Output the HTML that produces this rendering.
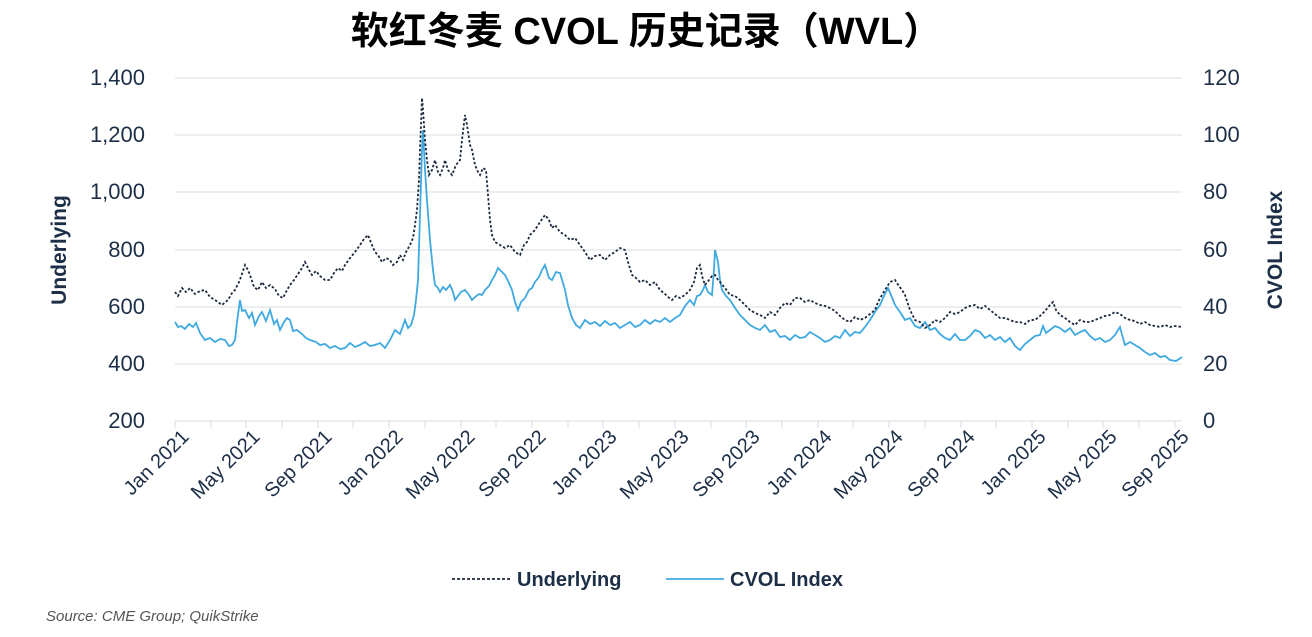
<!DOCTYPE html>
<html><head><meta charset="utf-8"><style>
body{margin:0;background:#fff;width:1312px;height:632px;overflow:hidden}
</style></head><body>
<svg width="1312" height="632" xmlns="http://www.w3.org/2000/svg" font-family="Liberation Sans, DejaVu Sans, sans-serif">
<text x="646" y="44" text-anchor="middle" font-size="38" font-weight="bold" fill="#000" font-family="Liberation Sans, Noto Sans CJK SC, sans-serif">软红冬麦 CVOL 历史记录（WVL）</text>
<g stroke="#e6e8ec" stroke-width="1.5">
<line x1="175" y1="78" x2="1182" y2="78"/><line x1="175" y1="135" x2="1182" y2="135"/><line x1="175" y1="192" x2="1182" y2="192"/><line x1="175" y1="250" x2="1182" y2="250"/><line x1="175" y1="307" x2="1182" y2="307"/><line x1="175" y1="364" x2="1182" y2="364"/><line x1="175" y1="421" x2="1182" y2="421"/>
</g>
<g stroke="#d8dbe0" stroke-width="1">
<line x1="175" y1="421" x2="175" y2="428"/><line x1="211" y1="421" x2="211" y2="428"/><line x1="246" y1="421" x2="246" y2="428"/><line x1="282" y1="421" x2="282" y2="428"/><line x1="318" y1="421" x2="318" y2="428"/><line x1="353" y1="421" x2="353" y2="428"/><line x1="389" y1="421" x2="389" y2="428"/><line x1="425" y1="421" x2="425" y2="428"/><line x1="461" y1="421" x2="461" y2="428"/><line x1="496" y1="421" x2="496" y2="428"/><line x1="532" y1="421" x2="532" y2="428"/><line x1="568" y1="421" x2="568" y2="428"/><line x1="603" y1="421" x2="603" y2="428"/><line x1="639" y1="421" x2="639" y2="428"/><line x1="675" y1="421" x2="675" y2="428"/><line x1="711" y1="421" x2="711" y2="428"/><line x1="746" y1="421" x2="746" y2="428"/><line x1="782" y1="421" x2="782" y2="428"/><line x1="818" y1="421" x2="818" y2="428"/><line x1="853" y1="421" x2="853" y2="428"/><line x1="889" y1="421" x2="889" y2="428"/><line x1="925" y1="421" x2="925" y2="428"/><line x1="961" y1="421" x2="961" y2="428"/><line x1="996" y1="421" x2="996" y2="428"/><line x1="1032" y1="421" x2="1032" y2="428"/><line x1="1068" y1="421" x2="1068" y2="428"/><line x1="1103" y1="421" x2="1103" y2="428"/><line x1="1139" y1="421" x2="1139" y2="428"/><line x1="1175" y1="421" x2="1175" y2="428"/>
</g>
<g font-size="22" fill="#1d2f47" text-anchor="end">
<text x="145" y="85">1,400</text><text x="145" y="142">1,200</text><text x="145" y="199">1,000</text><text x="145" y="257">800</text><text x="145" y="314">600</text><text x="145" y="371">400</text><text x="145" y="428">200</text>
</g>
<g font-size="22" fill="#1d2f47">
<text x="1203" y="85">120</text><text x="1203" y="142">100</text><text x="1203" y="199">80</text><text x="1203" y="257">60</text><text x="1203" y="314">40</text><text x="1203" y="371">20</text><text x="1203" y="428">0</text>
</g>
<text transform="translate(66,250) rotate(-90)" text-anchor="middle" font-size="21" font-weight="bold" fill="#1d2f47">Underlying</text>
<text transform="translate(1282,250) rotate(-90)" text-anchor="middle" font-size="21" font-weight="bold" fill="#1d2f47">CVOL Index</text>
<g font-size="20" fill="#1d2f47" text-anchor="end">
<text transform="translate(190,438) rotate(-45)">Jan 2021</text>
<text transform="translate(261,438) rotate(-45)">May 2021</text>
<text transform="translate(333,438) rotate(-45)">Sep 2021</text>
<text transform="translate(404,438) rotate(-45)">Jan 2022</text>
<text transform="translate(476,438) rotate(-45)">May 2022</text>
<text transform="translate(547,438) rotate(-45)">Sep 2022</text>
<text transform="translate(618,438) rotate(-45)">Jan 2023</text>
<text transform="translate(690,438) rotate(-45)">May 2023</text>
<text transform="translate(761,438) rotate(-45)">Sep 2023</text>
<text transform="translate(833,438) rotate(-45)">Jan 2024</text>
<text transform="translate(904,438) rotate(-45)">May 2024</text>
<text transform="translate(976,438) rotate(-45)">Sep 2024</text>
<text transform="translate(1047,438) rotate(-45)">Jan 2025</text>
<text transform="translate(1118,438) rotate(-45)">May 2025</text>
<text transform="translate(1190,438) rotate(-45)">Sep 2025</text>
</g>
<polyline fill="none" stroke="#3fa9e0" stroke-width="1.8" points="175,322 178,327 181,326 185,329 189,324 193,327 196,323 200,333 205,340 210,338 215,342 220,339 225,340 229,346 232,345 235,340 237,322 240,300 242,311 245,310 249,318 252,313 255,325 259,316 262,312 266,321 270,310 274,324 277,320 280,330 284,322 287,318 290,320 293,331 297,330 302,334 306,338 310,340 316,342 320,345 325,344 330,348 335,346 340,349 345,348 350,343 355,347 360,345 365,342 370,346 375,345 380,343 385,348 390,340 395,330 400,334 405,320 408,328 411,325 414,315 416,300 418,280 420,215 422,150 423,130 425,170 427,200 430,240 433,270 435,285 438,288 440,292 443,287 446,290 450,285 453,292 455,300 458,296 461,292 465,290 469,295 472,300 475,297 479,294 482,295 485,290 489,286 492,280 495,275 498,268 502,272 505,275 509,283 512,290 515,302 518,310 521,302 525,298 529,290 532,288 535,282 539,277 542,270 545,265 549,278 552,280 556,272 560,273 563,283 565,290 568,305 572,318 576,325 580,328 585,320 590,324 595,322 600,326 605,321 610,325 615,323 620,328 625,325 630,322 635,327 640,325 645,320 650,324 655,320 660,322 665,318 670,322 675,318 680,315 685,306 690,300 694,305 697,296 700,295 703,290 705,285 708,292 712,295 714,270 715,250 717,258 718,262 720,280 722,290 726,296 730,300 735,308 740,315 745,320 750,325 755,328 760,330 765,325 770,332 775,330 780,337 785,336 790,340 795,335 800,338 805,337 810,332 815,335 820,338 825,342 830,340 835,336 840,338 845,330 850,336 855,332 860,333 865,327 870,320 875,312 880,305 884,296 888,288 891,295 895,305 900,312 905,320 910,318 915,326 920,328 925,322 930,330 935,328 940,334 945,338 950,340 955,334 960,340 965,340 970,336 975,330 980,332 985,338 990,335 995,340 1000,337 1005,342 1010,338 1015,346 1020,350 1025,344 1030,340 1035,336 1040,335 1043,326 1046,333 1050,330 1055,326 1060,328 1065,332 1070,328 1075,335 1080,332 1085,330 1090,336 1095,340 1100,338 1105,342 1110,340 1115,335 1118,330 1120,327 1123,338 1125,345 1130,342 1135,345 1140,348 1145,352 1150,355 1155,353 1160,357 1165,356 1170,360 1176,361 1182,357"/>
<polyline fill="none" stroke="#1d2a3e" stroke-width="1.8" stroke-dasharray="2.5,2" points="175,292 178,296 182,288 186,292 190,288 195,294 200,291 205,290 210,297 215,300 222,305 228,300 232,293 235,290 239,282 242,274 245,265 248,270 250,275 254,287 258,290 262,282 266,288 270,285 275,289 279,296 283,298 287,290 290,285 294,280 298,274 302,268 305,262 309,270 312,275 316,271 320,276 325,280 330,280 334,273 338,268 342,271 345,265 350,258 355,252 360,245 364,239 368,235 372,245 375,252 378,255 382,262 386,258 390,260 393,265 397,262 400,255 403,260 406,252 410,245 413,238 415,225 417,210 419,180 420,150 422,98 423,110 425,140 427,160 429,175 432,170 435,160 438,172 440,175 443,168 445,160 448,170 452,175 456,165 460,160 462,140 465,115 467,125 470,145 472,150 475,165 478,172 480,175 483,168 486,170 488,195 490,220 492,235 495,242 500,245 505,248 510,245 515,252 520,255 524,245 527,242 530,235 535,230 540,222 545,215 549,220 552,228 555,225 560,232 565,235 570,240 575,238 580,245 585,252 590,260 595,256 600,255 605,260 610,255 615,252 620,248 625,250 628,262 632,275 636,278 640,282 645,280 650,285 655,282 660,290 665,294 668,297 672,300 676,296 680,298 685,295 690,290 694,282 697,268 700,265 702,276 705,285 709,280 712,276 715,275 718,280 720,282 725,288 730,295 735,296 740,300 745,305 750,310 755,313 760,315 765,318 770,312 775,315 780,308 785,303 790,305 795,298 800,298 805,302 810,300 815,303 820,305 825,306 830,308 835,311 840,316 845,320 850,322 855,317 860,320 865,318 870,314 875,310 878,302 882,295 885,290 890,282 895,280 899,286 902,290 905,295 910,310 915,320 920,322 925,328 930,325 935,320 940,322 945,318 950,312 955,314 960,312 965,308 970,306 975,305 980,309 985,306 990,310 995,314 1000,318 1005,318 1010,320 1015,322 1020,322 1025,324 1030,320 1035,320 1040,316 1045,311 1050,305 1053,302 1056,310 1060,315 1065,318 1070,322 1075,325 1080,320 1085,322 1090,322 1095,320 1100,318 1105,316 1110,315 1115,312 1120,314 1125,318 1130,320 1135,321 1140,324 1145,322 1150,325 1155,326 1160,327 1165,325 1170,327 1175,326 1182,327"/>
<line x1="452" y1="579" x2="512" y2="579" stroke="#1d2a3e" stroke-width="1.8" stroke-dasharray="3,2"/>
<text x="517" y="586" font-size="20" font-weight="bold" fill="#1d2f47">Underlying</text>
<line x1="666" y1="579" x2="724" y2="579" stroke="#3fa9e0" stroke-width="1.8"/>
<text x="730" y="586" font-size="20" font-weight="bold" fill="#1d2f47">CVOL Index</text>
<text x="46" y="621" font-size="15" font-style="italic" fill="#555">Source: CME Group; QuikStrike</text>
</svg>
</body></html>
